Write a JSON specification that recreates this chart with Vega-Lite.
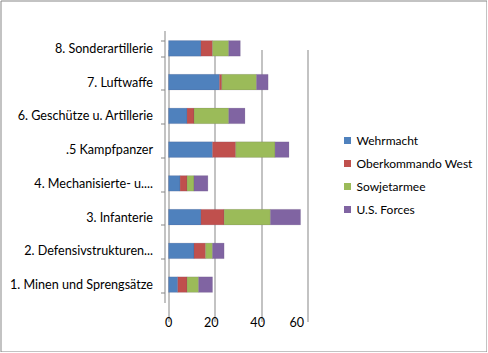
{
  "$schema": "https://vega.github.io/schema/vega-lite/v6.json",
  "width": 486,
  "height": 351,
  "autosize": {"type": "none"},
  "padding": 0.5,
  "background": "white",
  "config": {
    "view": {"stroke": "#878787", "strokeWidth": 1},
    "font": "Lato",
    "axis": {"labelFont": "Lato", "labelColor": "#000000", "labelFontSize": 12}
  },
  "data": {
    "values": [
      {"Kategorie": "8. Sonderartillerie", "Serie": "Wehrmacht", "Nr": 1, "Wert": 14},
      {"Kategorie": "8. Sonderartillerie", "Serie": "Oberkommando West", "Nr": 2, "Wert": 5},
      {"Kategorie": "8. Sonderartillerie", "Serie": "Sowjetarmee", "Nr": 3, "Wert": 7},
      {"Kategorie": "8. Sonderartillerie", "Serie": "U.S. Forces", "Nr": 4, "Wert": 5},
      {"Kategorie": "7. Luftwaffe", "Serie": "Wehrmacht", "Nr": 1, "Wert": 22},
      {"Kategorie": "7. Luftwaffe", "Serie": "Oberkommando West", "Nr": 2, "Wert": 1},
      {"Kategorie": "7. Luftwaffe", "Serie": "Sowjetarmee", "Nr": 3, "Wert": 15},
      {"Kategorie": "7. Luftwaffe", "Serie": "U.S. Forces", "Nr": 4, "Wert": 5},
      {"Kategorie": "6. Geschütze u. Artillerie", "Serie": "Wehrmacht", "Nr": 1, "Wert": 8},
      {"Kategorie": "6. Geschütze u. Artillerie", "Serie": "Oberkommando West", "Nr": 2, "Wert": 3},
      {"Kategorie": "6. Geschütze u. Artillerie", "Serie": "Sowjetarmee", "Nr": 3, "Wert": 15},
      {"Kategorie": "6. Geschütze u. Artillerie", "Serie": "U.S. Forces", "Nr": 4, "Wert": 7},
      {"Kategorie": ".5 Kampfpanzer", "Serie": "Wehrmacht", "Nr": 1, "Wert": 19},
      {"Kategorie": ".5 Kampfpanzer", "Serie": "Oberkommando West", "Nr": 2, "Wert": 10},
      {"Kategorie": ".5 Kampfpanzer", "Serie": "Sowjetarmee", "Nr": 3, "Wert": 17},
      {"Kategorie": ".5 Kampfpanzer", "Serie": "U.S. Forces", "Nr": 4, "Wert": 6},
      {"Kategorie": "4. Mechanisierte- u....", "Serie": "Wehrmacht", "Nr": 1, "Wert": 5},
      {"Kategorie": "4. Mechanisierte- u....", "Serie": "Oberkommando West", "Nr": 2, "Wert": 3},
      {"Kategorie": "4. Mechanisierte- u....", "Serie": "Sowjetarmee", "Nr": 3, "Wert": 3},
      {"Kategorie": "4. Mechanisierte- u....", "Serie": "U.S. Forces", "Nr": 4, "Wert": 6},
      {"Kategorie": "3. Infanterie", "Serie": "Wehrmacht", "Nr": 1, "Wert": 14},
      {"Kategorie": "3. Infanterie", "Serie": "Oberkommando West", "Nr": 2, "Wert": 10},
      {"Kategorie": "3. Infanterie", "Serie": "Sowjetarmee", "Nr": 3, "Wert": 20},
      {"Kategorie": "3. Infanterie", "Serie": "U.S. Forces", "Nr": 4, "Wert": 13},
      {"Kategorie": "2. Defensivstrukturen...", "Serie": "Wehrmacht", "Nr": 1, "Wert": 11},
      {"Kategorie": "2. Defensivstrukturen...", "Serie": "Oberkommando West", "Nr": 2, "Wert": 5},
      {"Kategorie": "2. Defensivstrukturen...", "Serie": "Sowjetarmee", "Nr": 3, "Wert": 3},
      {"Kategorie": "2. Defensivstrukturen...", "Serie": "U.S. Forces", "Nr": 4, "Wert": 5},
      {"Kategorie": "1. Minen und Sprengsätze", "Serie": "Wehrmacht", "Nr": 1, "Wert": 4},
      {"Kategorie": "1. Minen und Sprengsätze", "Serie": "Oberkommando West", "Nr": 2, "Wert": 4},
      {"Kategorie": "1. Minen und Sprengsätze", "Serie": "Sowjetarmee", "Nr": 3, "Wert": 5},
      {"Kategorie": "1. Minen und Sprengsätze", "Serie": "U.S. Forces", "Nr": 4, "Wert": 6}
    ]
  },
  "mark": {"type": "bar", "stroke": "#5a4a6e", "strokeWidth": 0.3, "strokeOpacity": 0.5},
  "encoding": {
    "y": {
      "field": "Kategorie",
      "type": "nominal",
      "sort": ["8. Sonderartillerie", "7. Luftwaffe", "6. Geschütze u. Artillerie", ".5 Kampfpanzer", "4. Mechanisierte- u....", "3. Infanterie", "2. Defensivstrukturen...", "1. Minen und Sprengsätze"],
      "scale": {"range": [30, 302], "paddingInner": 0.54, "paddingOuter": 0.3},
      "axis": {
        "title": null,
        "orient": "left",
        "offset": -164,
        "domain": true,
        "domainColor": "#878787",
        "ticks": true,
        "tickBand": "extent",
        "tickColor": "#878787",
        "tickSize": 4,
        "labelPadding": 8,
        "labelFontSize": 12.6
      }
    },
    "x": {
      "field": "Wert",
      "type": "quantitative",
      "stack": "zero",
      "scale": {"domain": [0, 60], "range": [168, 307], "nice": false},
      "axis": {
        "title": null,
        "orient": "bottom",
        "offset": -49,
        "values": [0, 20, 40, 60],
        "domain": false,
        "ticks": false,
        "labelPadding": 14,
        "labelOffset": -4,
        "labelFontSize": 12.6,
        "grid": true,
        "gridColor": "#878787",
        "gridWidth": 1
      }
    },
    "color": {
      "field": "Serie",
      "type": "nominal",
      "sort": ["Wehrmacht", "Oberkommando West", "Sowjetarmee", "U.S. Forces"],
      "scale": {
        "domain": ["Wehrmacht", "Oberkommando West", "Sowjetarmee", "U.S. Forces"],
        "range": ["#4F81BD", "#C0504D", "#9BBB59", "#8064A2"]
      },
      "legend": {
        "title": null,
        "orient": "none",
        "legendX": 341,
        "legendY": 134,
        "symbolType": "square",
        "symbolSize": 49,
        "symbolStrokeWidth": 0,
        "labelFontSize": 12,
        "labelFont": "Lato",
        "labelColor": "#000000",
        "labelOffset": 3,
        "rowPadding": 11
      }
    },
    "order": {"field": "Nr", "type": "quantitative"}
  }
}
